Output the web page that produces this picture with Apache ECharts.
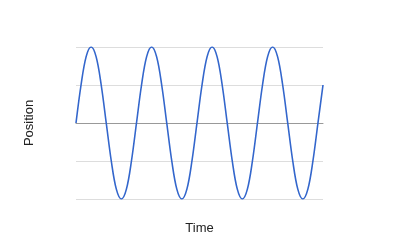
<!DOCTYPE html>
<html><head><meta charset="utf-8">
<script src="https://cdn.jsdelivr.net/npm/echarts@6/dist/echarts.min.js"></script>
<style>html,body{margin:0;padding:0;background:#fff}#c{width:400px;height:247px}</style>
</head><body><div id="c"></div>
<script>
// Time samples (12 per period) and position
const time = [0,1,2,3,4,5,6,7,8,9,10,11,12,13,14,15,16,17,18,19,20,21,22,23,24,25,26,27,28,29,30,31,32,33,34,35,36,37,38,39,40,41,42,43,44,45,46,47,48,49];
const position = [0,0.5,0.87,1,0.87,0.5,0,-0.5,-0.87,-1,-0.87,-0.5,
  0,0.5,0.87,1,0.87,0.5,0,-0.5,-0.87,-1,-0.87,-0.5,
  0,0.5,0.87,1,0.87,0.5,0,-0.5,-0.87,-1,-0.87,-0.5,
  0,0.5,0.87,1,0.87,0.5,0,-0.5,-0.87,-1,-0.87,-0.5,
  0,0.5];
const xName = 'Time';
const yName = 'Position';

const chart = echarts.init(document.getElementById('c'), null, {renderer:'canvas'});
chart.setOption({
  animation:false,
  grid:{left:76,right:77,top:47,bottom:48},
  xAxis:{type:'value',min:0,max:49,name:xName,nameLocation:'middle',nameGap:23,
    nameTextStyle:{fontFamily:'Liberation Sans, Arial',fontSize:13,color:'#222'},
    axisLine:{show:true,onZero:true,lineStyle:{color:'#999',width:1}},
    axisTick:{show:false},axisLabel:{show:false},splitLine:{show:false}},
  yAxis:{type:'value',min:-1,max:1,interval:0.5,name:yName,nameLocation:'middle',nameGap:40,
    nameTextStyle:{fontFamily:'Liberation Sans, Arial',fontSize:13,color:'#222'},
    axisLine:{show:false},axisTick:{show:false},axisLabel:{show:false},
    splitLine:{show:true,lineStyle:{color:'#dddddd',width:1}}},
  series:[{type:'line',data:time.map((t,i)=>[t,position[i]]),smooth:0.35,showSymbol:false,
    lineStyle:{color:'#3366cc',width:1.6}}]
});
</script></body></html>
